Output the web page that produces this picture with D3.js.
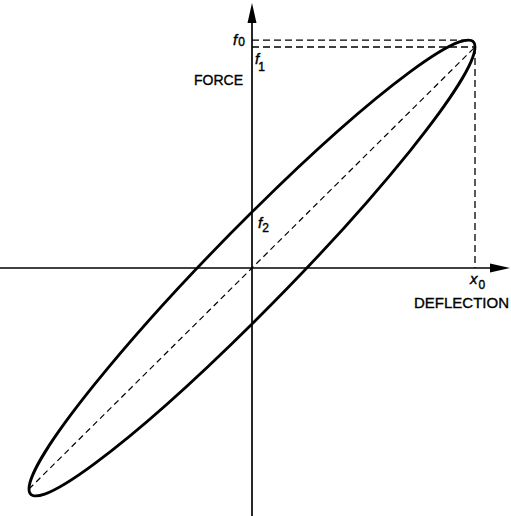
<!DOCTYPE html>
<html><head><meta charset="utf-8">
<script src="https://cdn.jsdelivr.net/npm/d3@7"></script>
<style>html,body{margin:0;padding:0;background:#fff;}svg{display:block;}</style>
</head><body>
<script>
// Data (normalized units)
const x0 = [1.0];          // deflection amplitude
const f1 = [1.0];          // force at max deflection
const f2 = [0.253];        // force at zero deflection
const axisLabels = ["FORCE", "DEFLECTION"];
const markLabels = [["f","0"],["f","1"],["f","2"],["x","0"]];

const W = 511, H = 516;
const svg = d3.select("body").append("svg").attr("width", W).attr("height", H);

const x = d3.scaleLinear().domain([-1, 1]).range([29, 475]);
const y = d3.scaleLinear().domain([-1, 1]).range([489, 47]);

const X0 = x0[0], F1 = f1[0], F2 = f2[0];
const F0 = Math.sqrt(F1 * F1 + F2 * F2);
const ox = x(0), oy = y(0);
const font = "'Liberation Sans', Arial, Helvetica, sans-serif";

// axes
svg.append("line").attr("x1", 0).attr("x2", 500).attr("y1", oy).attr("y2", oy)
  .attr("stroke", "#000").attr("stroke-width", 1.7);
svg.append("line").attr("x1", ox).attr("x2", ox).attr("y1", H).attr("y2", 14)
  .attr("stroke", "#000").attr("stroke-width", 1.7);
// arrowheads
svg.append("path").attr("d", `M${ox},3 L${ox-4.5},23 L${ox+4.5},23 Z`).attr("fill", "#000");
svg.append("path").attr("d", `M510,${oy} L490,${oy-4.5} L490,${oy+4.5} Z`).attr("fill", "#000");

// dashed guides
const dash = "7,4";
svg.append("line").attr("x1", ox).attr("x2", x(X0 * F1 / F0)).attr("y1", y(F0)).attr("y2", y(F0))
  .attr("stroke", "#000").attr("stroke-width", 1.3).attr("stroke-dasharray", dash);
svg.append("line").attr("x1", ox).attr("x2", x(X0)).attr("y1", y(F1)).attr("y2", y(F1))
  .attr("stroke", "#000").attr("stroke-width", 1.3).attr("stroke-dasharray", dash);
svg.append("line").attr("x1", x(X0)).attr("x2", x(X0)).attr("y1", y(F1)).attr("y2", oy)
  .attr("stroke", "#000").attr("stroke-width", 1.3).attr("stroke-dasharray", dash);
svg.append("line").attr("x1", x(-X0)).attr("x2", x(X0)).attr("y1", y(-F1)).attr("y2", y(F1))
  .attr("stroke", "#000").attr("stroke-width", 1.2).attr("stroke-dasharray", "6,4");

// hysteresis loop: unit circle mapped by (cos t, sin t) -> (x0 cos t, f1 cos t + f2 sin t)
const sx = x(1) - x(0), sy = y(0) - y(1);
svg.append("circle").attr("cx", 0).attr("cy", 0).attr("r", 1)
  .attr("transform", `matrix(${sx * X0},${-sy * F1},0,${-sy * F2},${ox},${oy})`)
  .attr("fill", "none").attr("stroke", "#000").attr("stroke-width", 2.8)
  .attr("vector-effect", "non-scaling-stroke");

// labels
function sub(xp, yp, main, s, dx, dy) {
  const t = svg.append("text").attr("x", xp).attr("y", yp)
    .attr("font-family", font).attr("fill", "#000")
    .attr("stroke", "#000").attr("stroke-width", 0.4);
  t.append("tspan").text(main).attr("font-size", 15).attr("font-style", "italic");
  t.append("tspan").text(s).attr("font-size", 12).attr("dx", dx).attr("dy", dy);
}
sub(233, 45, markLabels[0][0], markLabels[0][1], 1, 1);
sub(255, 64, markLabels[1][0], markLabels[1][1], -1, 7);
sub(258, 228, markLabels[2][0], markLabels[2][1], 0, 4);
sub(470, 284, markLabels[3][0], markLabels[3][1], 1, 5);

svg.append("text").attr("x", 194).attr("y", 85).text(axisLabels[0])
  .attr("font-family", font).attr("font-size", 14).attr("fill", "#000")
  .attr("stroke", "#000").attr("stroke-width", 0.35);
svg.append("text").attr("x", 414).attr("y", 308).text(axisLabels[1])
  .attr("font-family", font).attr("font-size", 15).attr("fill", "#000")
  .attr("stroke", "#000").attr("stroke-width", 0.35);
</script>
</body></html>
